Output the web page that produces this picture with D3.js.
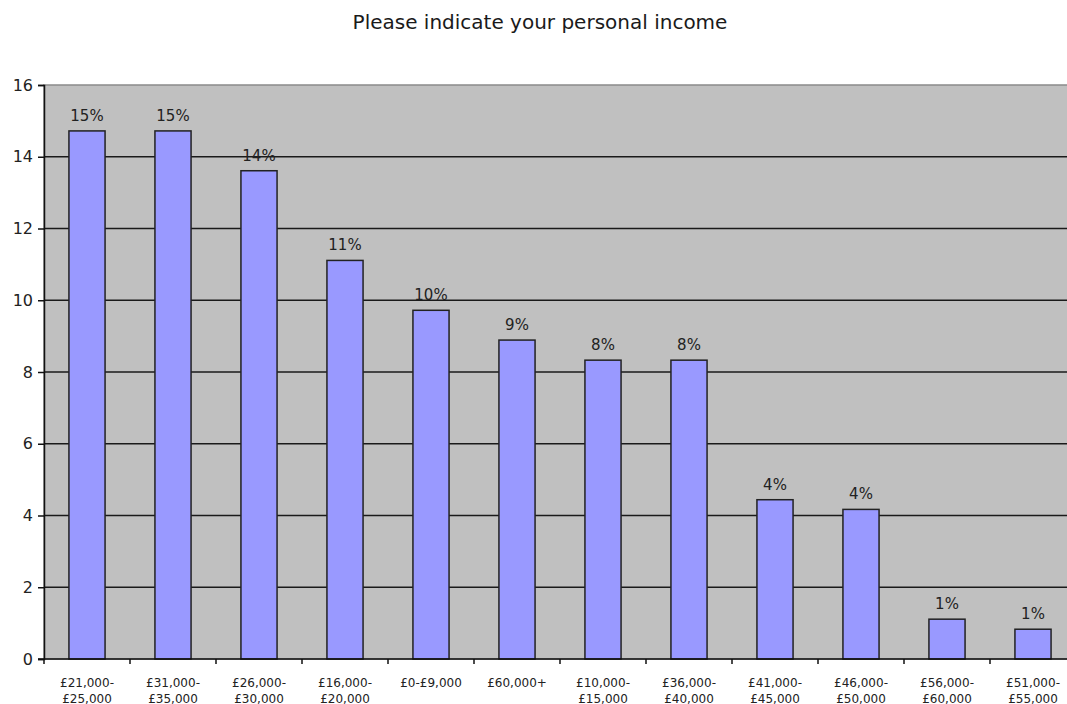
<!DOCTYPE html>
<html>
<head>
<meta charset="utf-8">
<script src="https://cdn.jsdelivr.net/npm/d3@7"></script>
<style>
  body { margin: 0; background: #fff; }
  text { font-family: "DejaVu Sans", Verdana, sans-serif; }
</style>
</head>
<body>
<svg id="chart" width="1067" height="704"></svg>
<script>
// Income bands, in the order they are ranked
const categories = [
  "£21,000-\n£25,000", "£31,000-\n£35,000", "£26,000-\n£30,000", "£16,000-\n£20,000",
  "£0-£9,000", "£60,000+", "£10,000-\n£15,000", "£36,000-\n£40,000",
  "£41,000-\n£45,000", "£46,000-\n£50,000", "£56,000-\n£60,000", "£51,000-\n£55,000"
];
// Share of respondents, percent
const values = [14.72, 14.72, 13.61, 11.11, 9.72, 8.89, 8.33, 8.33, 4.44, 4.17, 1.11, 0.83];
const yTicks = [0, 2, 4, 6, 8, 10, 12, 14, 16];
const title = "Please indicate your personal income";

const plot = { left: 44, top: 85, bottom: 659, step: 86 };
plot.right = plot.left + plot.step * categories.length;

const svg = d3.select("#chart");

const x = d3.scaleBand()
  .domain(categories)
  .range([plot.left, plot.right])
  .paddingInner(0.58)
  .paddingOuter(0.29);

const y = d3.scaleLinear().domain([0, 16]).range([plot.bottom, plot.top]);

// Title
svg.append("text")
  .attr("x", 540).attr("y", 29)
  .attr("text-anchor", "middle")
  .attr("font-size", 20)
  .attr("fill", "#1a1a1a")
  .text(title);

// Plot area
svg.append("rect")
  .attr("x", plot.left).attr("y", plot.top)
  .attr("width", plot.right - plot.left).attr("height", plot.bottom - plot.top)
  .attr("fill", "#c0c0c0")
  .attr("stroke", "#8a8a8a")
  .attr("stroke-width", 1.5);

// Horizontal gridlines
svg.append("g")
  .selectAll("line")
  .data(yTicks.filter(t => t > 0 && t < 16))
  .join("line")
  .attr("x1", plot.left).attr("x2", plot.right)
  .attr("y1", d => y(d)).attr("y2", d => y(d))
  .attr("stroke", "#1a1a1a")
  .attr("stroke-width", 1.5);

// Bars
svg.append("g")
  .selectAll("rect")
  .data(values)
  .join("rect")
  .attr("x", (d, i) => x(categories[i]))
  .attr("y", d => y(d))
  .attr("width", x.bandwidth())
  .attr("height", d => y(0) - y(d))
  .attr("fill", "#9999ff")
  .attr("stroke", "#222")
  .attr("stroke-width", 1.5);

// Value labels
svg.append("g")
  .selectAll("text")
  .data(values)
  .join("text")
  .attr("x", (d, i) => x(categories[i]) + x.bandwidth() / 2)
  .attr("y", d => y(d) - 10)
  .attr("text-anchor", "middle")
  .attr("font-size", 15)
  .attr("fill", "#222")
  .text(d => Math.round(d) + "%");

// Y axis
const yAxis = svg.append("g")
  .attr("transform", `translate(${plot.left},0)`)
  .call(d3.axisLeft(y).tickValues(yTicks).tickSize(6).tickPadding(5).tickFormat(d3.format("d")));
yAxis.select(".domain").attr("stroke", "#111").attr("stroke-width", 1.5);
yAxis.selectAll(".tick line").attr("stroke", "#111").attr("stroke-width", 1.5);
yAxis.selectAll(".tick text")
  .attr("font-size", 16)
  .attr("fill", "#222")
  .attr("font-family", "DejaVu Sans, Verdana, sans-serif");

// X axis: ticks sit on the band boundaries
const boundaries = d3.range(categories.length + 1).map(i => plot.left + i * x.step());
const xAxisG = svg.append("g");
xAxisG.append("line")
  .attr("x1", plot.left - 6).attr("x2", plot.right)
  .attr("y1", plot.bottom).attr("y2", plot.bottom)
  .attr("stroke", "#111").attr("stroke-width", 1.5);
xAxisG.selectAll("line.tk")
  .data(boundaries)
  .join("line")
  .attr("class", "tk")
  .attr("x1", d => d).attr("x2", d => d)
  .attr("y1", plot.bottom).attr("y2", plot.bottom + 5)
  .attr("stroke", "#111").attr("stroke-width", 1.5);

const lab = xAxisG.selectAll("text")
  .data(categories)
  .join("text")
  .attr("x", d => x(d) + x.bandwidth() / 2)
  .attr("y", 687)
  .attr("text-anchor", "middle")
  .attr("font-size", 12)
  .attr("fill", "#222");
lab.selectAll("tspan")
  .data(d => d.split("\n"))
  .join("tspan")
  .attr("x", function () { return this.parentNode.getAttribute("x"); })
  .attr("dy", (d, i) => i === 0 ? 0 : 15.5)
  .text(d => d);
</script>
</body>
</html>
